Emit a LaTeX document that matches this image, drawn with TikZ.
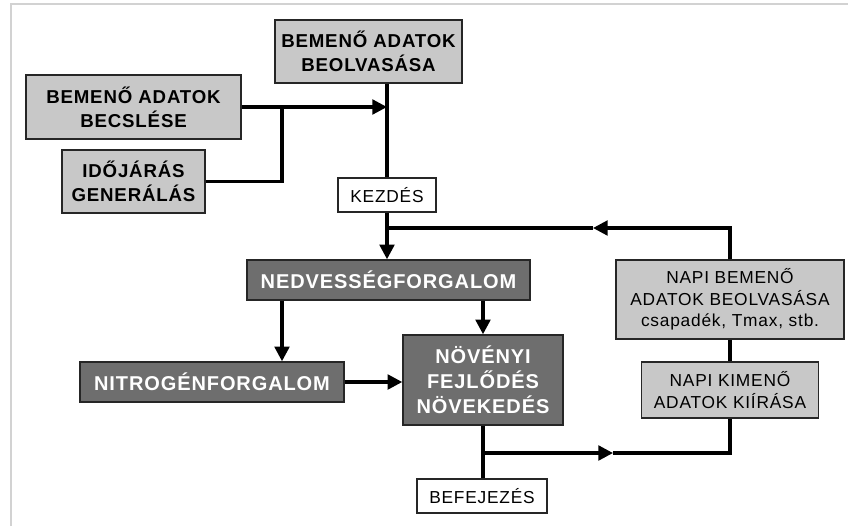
\documentclass[tikz,border=0pt]{standalone}
\usepackage{fontspec}
\setmainfont{Liberation Sans}[LetterSpace=4.5]
\usetikzlibrary{arrows.meta}
\definecolor{boxlight}{HTML}{C8C8C8}
\definecolor{boxdark}{HTML}{6E6E6E}
\definecolor{framegray}{HTML}{D2D2D2}

\begin{document}
\begin{tikzpicture}[
    x=0.75pt, y=-0.75pt,
    box/.style={rectangle, draw=black!85, line width=1.1pt, align=center, inner sep=0pt},
    input/.style={box, fill=boxlight, font=\fontsize{14}{18}\selectfont\bfseries},
    daily/.style={box, fill=boxlight, font=\fontsize{13}{16.3}\selectfont},
    process/.style={box, fill=boxdark, text=white, font=\fontsize{15}{18.8}\selectfont\bfseries},
    terminal/.style={box, fill=white, font=\fontsize{13}{16}\selectfont},
    flow/.style={line width=2.4pt},
    arr/.style={flow, -{Triangle[length=11pt,width=11pt]}}
]
    \useasboundingbox (0,0) rectangle (848,526);
    \draw[framegray, line width=1.5pt] (11,526) -- (11,4) -- (848,4);

    % Input nodes
    \node[input, minimum width=140pt, minimum height=47pt] (bev) at (368.5,51.5) {BEMENŐ ADATOK\\BEOLVASÁSA};
    \node[input, minimum width=161pt, minimum height=48pt] (becs) at (133.5,107) {BEMENŐ ADATOK\\BECSLÉSE};
    \node[input, minimum width=107pt, minimum height=47pt] (idoj) at (133.5,181.5) {IDŐJÁRÁS\\GENERÁLÁS};
    \node[terminal, minimum width=73.5pt, minimum height=25.5pt] (kezd) at (387,195) {KEZDÉS};

    % Process nodes
    \node[process, minimum width=212pt, minimum height=30pt] (nedv) at (388.5,280) {NEDVESSÉGFORGALOM};
    \node[process, minimum width=198pt, minimum height=30pt] (nitro) at (212,382) {NITROGÉNFORGALOM};
    \node[process, minimum width=120pt, minimum height=67.5pt] (nov) at (483,380) {NÖVÉNYI\\FEJLŐDÉS\\NÖVEKEDÉS};
    \node[terminal, minimum width=97.5pt, minimum height=25.5pt] (befej) at (482,496) {BEFEJEZÉS};

    % Daily nodes
    \node[daily, minimum width=171pt, minimum height=59pt] (napibe) at (730,299.5) {NAPI BEMENŐ\\ADATOK BEOLVASÁSA\\csapadék, Tmax, stb.};
    \node[daily, minimum width=133pt, minimum height=42pt] (napiki) at (730,390) {NAPI KIMENŐ\\ADATOK KIÍRÁSA};

    % Junction points
    \coordinate (join) at (282,0);
    \coordinate (back) at (593,228);
    \coordinate (fwd) at (613,453);

    % Connections
    \draw[flow] (bev.south -| kezd) -- (kezd.north);
    \draw[arr] (becs.east) -- (becs.east -| kezd);
    \draw[flow] (idoj.east) -| (join |- becs.east);
    \draw[arr] (kezd.south) -- (kezd |- nedv.north);
    \draw[arr] (napibe.north) |- (back);
    \draw[flow] (back) -- (back -| kezd);
    \draw[arr] (join |- nedv.south) -- (join |- nitro.north);
    \draw[arr] (nov |- nedv.south) -- (nov.north);
    \draw[arr] (nitro.east) -- (nitro.east -| nov.west);
    \draw[flow] (nov.south) -- (nov.south |- befej.north);
    \draw[arr] (nov.south |- fwd) -- (fwd);
    \draw[flow] (fwd) -| (napiki.south);
    \draw[flow] (napibe) -- (napiki);
\end{tikzpicture}
\end{document}
